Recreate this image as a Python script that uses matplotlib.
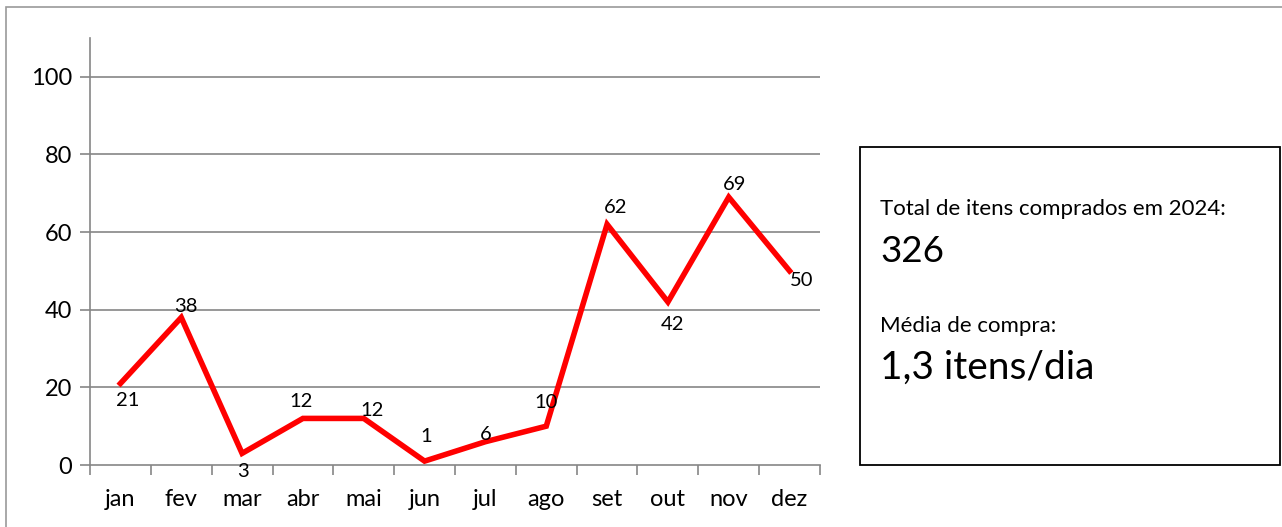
import matplotlib
matplotlib.use('Agg')
import matplotlib.pyplot as plt
from matplotlib.patches import Rectangle

plt.rcParams['font.family'] = ['Lato', 'DejaVu Sans']

# data
months = ['jan', 'fev', 'mar', 'abr', 'mai', 'jun', 'jul', 'ago', 'set', 'out', 'nov', 'dez']
itens = [21, 38, 3, 12, 12, 1, 6, 10, 62, 42, 69, 50]
total_label = 'Total de itens comprados em 2024:'
total_value = '326'
media_label = 'Média de compra:'
media_value = '1,3 itens/dia'

# label offsets (points) for the data labels
offs = [(5, -12), (3, 8), (1, -13), (-1, 12), (6, 6), (1, 18), (0, 5), (0, 17),
        (6, 12), (3, -16), (4, 9), (9, -7)]

W, H = 1282, 527
fig = plt.figure(figsize=(W / 100, H / 100), dpi=100)

# outer frame of the chart area
fig.patches.append(Rectangle((6 / W, -0.1), 1.2, (H - 7) / H + 0.1,
                             transform=fig.transFigure, fill=False,
                             edgecolor='#9a9a9a', linewidth=1.2))

ax = fig.add_axes([90 / W, (H - 465) / H, (820 - 90) / W, (465 - 38) / H])
x = list(range(len(months)))
ax.plot(x, itens, color='#ff0000', linewidth=4, solid_joinstyle='miter', zorder=3)
for i, v in enumerate(itens):
    ax.annotate(str(v), (i, v), xytext=offs[i], textcoords='offset points',
                ha='center', va='center', fontsize=14.5, color='black', zorder=4)

ax.set_xlim(-0.5, len(months) - 0.5)
ax.set_ylim(0, 110)
ax.set_yticks([0, 20, 40, 60, 80, 100])
for yv in [20, 40, 60, 80, 100]:
    ax.axhline(yv, color='#868686', linewidth=1.2, zorder=1)

ax.set_xticks([i - 0.5 for i in range(len(months) + 1)])
ax.set_xticklabels([])
ax.set_xticks(x, minor=True)
ax.set_xticklabels(months, minor=True, fontsize=17)
ax.tick_params(axis='x', which='minor', length=0, pad=17)
ax.tick_params(axis='x', which='major', length=7, color='#868686', width=1.2, direction='out')
ax.tick_params(axis='y', length=7, color='#868686', width=1.2, labelsize=17, pad=6)

for s in ['top', 'right']:
    ax.spines[s].set_visible(False)
ax.spines['left'].set_color('#868686')
ax.spines['bottom'].set_color('#868686')
ax.spines['left'].set_linewidth(1.2)
ax.spines['bottom'].set_linewidth(1.2)

# summary box
fig.patches.append(Rectangle((860 / W, (H - 465) / H), (1280 - 860) / W, (465 - 147) / H,
                             transform=fig.transFigure, fill=False,
                             edgecolor='black', linewidth=1.3))
fig.text(880 / W, 1 - 209 / H, total_label, fontsize=16, va='center', ha='left')
fig.text(880 / W, 1 - 252 / H, total_value, fontsize=26.5, va='center', ha='left')
fig.text(880 / W, 1 - 326 / H, media_label, fontsize=16, va='center', ha='left')
fig.text(880 / W, 1 - 368 / H, media_value, fontsize=28, va='center', ha='left')

fig.savefig('out.png', dpi=100)
